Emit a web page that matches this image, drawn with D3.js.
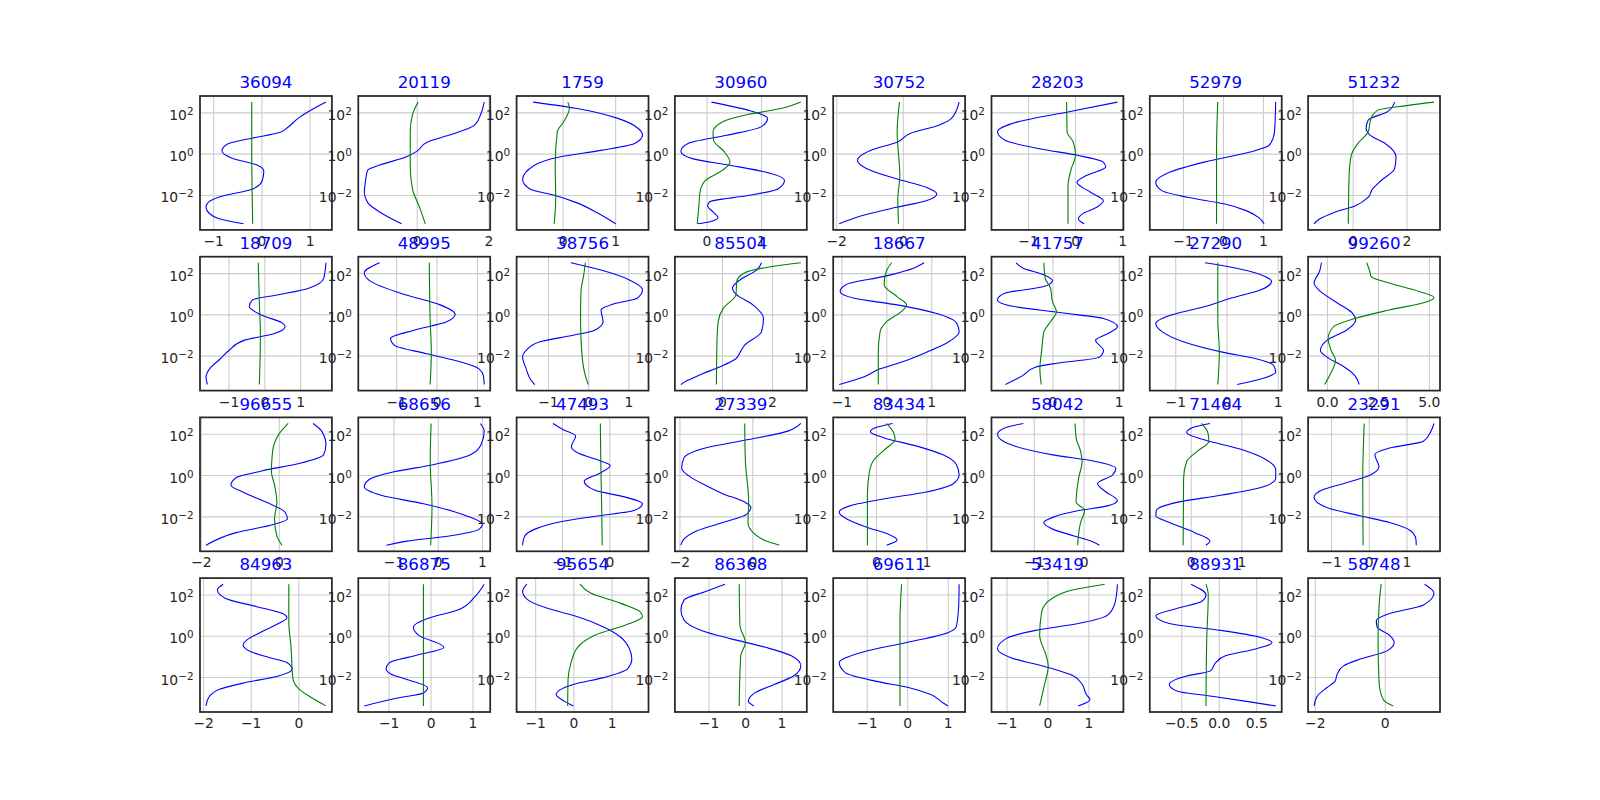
<!DOCTYPE html>
<html><head><meta charset="utf-8">
<script src="https://cdn.jsdelivr.net/npm/d3@7"></script>
<style>body{margin:0;background:#fff}</style>
</head><body>
<svg id="chart" width="1600" height="800"></svg>
<script>
// ---------- data ----------
const titles = ["36094","20119","1759","30960","30752","28203","52979","51232",
  "18709","48995","38756","85504","18667","41757","27290","99260",
  "96655","68656","47493","27339","83434","58042","71464","23291",
  "84963","86875","95654","86368","69611","53419","88931","58748"];

const xTicks = [[-1,0,1],[0,2],[0,1],[0,1],[-2,0],[-1,0,1],[-1,0,1],[0,2],
  [-1,0,1],[-1,0,1],[-1,0,1],[0,2],[-1,0,1],[0,1],[-1,0,1],[0,2.5,5],
  [-2,0],[-1,0,1],[-1,0],[-2,0],[0,1],[-1,0],[0,1],[-1,0,1],
  [-2,-1,0],[-1,0,1],[-1,0,1],[-1,0,1],[-1,0,1],[-1,0,1],[-0.5,0,0.5],[-2,0]];

const yTickValues = [1e-2, 1, 1e2];
const yTickExponents = ["−2", "0", "2"];

// each point: [log10(y), x]
const blue = [
 [[2.5,1.34],[1.71,0.76],[1.28,0.55],[1.01,0.36],[0.76,-0.18],[0.46,-0.71],[0.14,-0.82],[-0.21,-0.62],[-0.57,-0.07],[-0.84,0.05],[-1.30,0.02],[-1.71,-0.18],[-2.11,-0.89],[-2.35,-1.10],[-2.6,-1.15],[-2.9,-1.08],[-3.14,-0.89],[-3.4,-0.37]],
 [[2.5,1.88],[1.95,1.79],[1.38,1.61],[0.89,0.89],[0.57,0.30],[0.11,0],[-0.16,-0.30],[-0.54,-1.01],[-0.81,-1.37],[-1.38,-1.43],[-1.87,-1.46],[-2.36,-1.37],[-2.85,-1.01],[-3.4,-0.42]],
 [[2.5,-0.56],[2.2,0.25],[1.71,1.05],[1.22,1.44],[0.89,1.52],[0.49,1.37],[0.16,0.73],[-0.16,-0.06],[-0.57,-0.54],[-1.25,-0.76],[-1.71,-0.62],[-2.03,-0.14],[-2.36,0.25],[-2.85,0.65],[-3.4,1.01]],
 [[2.5,0.09],[2.11,0.76],[1.71,1.12],[1.30,1.0],[0.89,0.37],[0.49,-0.34],[0.11,-0.47],[-0.24,-0.26],[-0.57,0.45],[-0.89,1.08],[-1.30,1.43],[-1.71,1.31],[-2.03,0.76],[-2.33,0.06],[-2.52,0.02],[-2.85,0.13],[-3.09,0.21],[-3.30,0.06],[-3.4,-0.16]],
 [[2.5,1.69],[1.71,1.46],[1.38,1.08],[0.98,0.22],[0.54,-0.19],[0.24,-0.83],[-0.33,-1.36],[-0.73,-1.08],[-1.22,-0.19],[-1.63,0.70],[-1.95,1.02],[-2.28,0.70],[-2.60,-0.19],[-3.0,-1.21],[-3.4,-1.91]],
 [[2.5,0.90],[2.03,-0.13],[1.54,-1.22],[1.06,-1.65],[0.65,-1.49],[0.24,-0.76],[-0.08,0.05],[-0.41,0.60],[-0.65,0.65],[-1.06,0.24],[-1.38,0.04],[-1.87,0.33],[-2.28,0.60],[-2.60,0.46],[-2.93,0.15],[-3.17,0.07],[-3.4,0.19]],
 [[2.5,1.32],[1.06,1.29],[0.41,1.16],[0.08,0.68],[-0.41,-0.47],[-0.89,-1.32],[-1.38,-1.68],[-1.79,-1.53],[-2.11,-0.89],[-2.44,0.05],[-2.76,0.58],[-3.09,0.89],[-3.4,1.03]],
 [[2.5,1.56],[2.03,1.29],[1.63,0.58],[1.22,0.50],[0.89,0.66],[0.49,1.21],[-0.16,1.61],[-0.73,1.56],[-1.30,1.06],[-1.71,0.74],[-2.11,0.58],[-2.52,0.11],[-2.85,-0.68],[-3.17,-1.23],[-3.4,-1.43]],
 [[2.5,1.72],[1.76,1.66],[1.27,1.24],[0.95,0.40],[0.70,-0.33],[0.38,-0.42],[-0.03,-0.08],[-0.44,0.52],[-0.60,0.58],[-0.93,0.28],[-1.26,-0.57],[-1.75,-0.99],[-2.15,-1.23],[-2.64,-1.53],[-3.05,-1.63],[-3.4,-1.59]],
 [[2.5,-1.41],[2.01,-1.79],[1.60,-1.63],[0.95,-0.77],[0.46,0.09],[0,0.46],[-0.36,0.25],[-0.77,-0.56],[-1.17,-1.14],[-1.50,-1.04],[-1.91,-0.24],[-2.32,0.62],[-2.64,1.05],[-2.97,1.16],[-3.4,1.18]],
 [[2.5,-0.43],[2.17,0.27],[1.68,1.01],[1.19,1.35],[0.78,1.22],[0.54,0.69],[0.21,0.32],[-0.36,0.37],[-0.77,0.16],[-1.01,-0.37],[-1.34,-1.22],[-1.75,-1.54],[-2.07,-1.63],[-2.64,-1.54],[-3.13,-1.44],[-3.4,-1.33]],
 [[2.5,1.58],[2.17,1.41],[1.68,0.73],[1.27,0.42],[0.98,0.56],[0.46,1.24],[-0.20,1.66],[-0.85,1.58],[-1.50,0.90],[-1.83,0.73],[-2.15,0.56],[-2.56,-0.12],[-2.89,-0.80],[-3.21,-1.39],[-3.4,-1.64]],
 [[2.5,0.84],[2.25,0.62],[1.84,-0.05],[1.44,-0.90],[1.11,-1.03],[0.78,-0.71],[0.46,0.24],[0.05,1.10],[-0.44,1.57],[-0.85,1.62],[-1.34,1.38],[-1.83,0.90],[-2.32,0.33],[-2.64,-0.14],[-3.05,-0.52],[-3.4,-1.05]],
 [[2.5,-0.55],[2.25,-0.45],[1.92,-0.13],[1.63,0],[1.35,-0.13],[1.03,-0.71],[0.70,-0.83],[0.38,-0.58],[0.08,0.13],[-0.20,0.77],[-0.60,0.98],[-0.93,0.84],[-1.26,0.65],[-1.75,0.77],[-2.07,0.71],[-2.40,0],[-2.56,-0.26],[-2.97,-0.45],[-3.4,-0.71]],
 [[2.5,-0.42],[2.25,0.17],[1.84,0.75],[1.60,0.88],[1.19,0.67],[0.78,0.08],[0.38,-0.42],[-0.03,-1.08],[-0.44,-1.38],[-0.85,-1.25],[-1.34,-0.83],[-1.83,-0.08],[-2.15,0.58],[-2.48,0.92],[-2.81,0.96],[-3.13,0.67],[-3.4,0.21]],
 [[2.5,-0.27],[2.09,-0.36],[1.52,-0.63],[1.11,-0.32],[0.54,0.53],[0.05,1.26],[-0.28,1.41],[-0.77,0.95],[-1.26,0],[-1.75,-0.32],[-2.07,0],[-2.48,0.74],[-2.97,1.37],[-3.4,1.58]],
 [[2.5,0.88],[2.13,1.10],[1.48,1.21],[0.98,1.15],[0.57,0.55],[0.20,-0.44],[-0.13,-1.10],[-0.49,-1.23],[-0.82,-0.93],[-1.31,-0.33],[-1.80,0.16],[-2.13,0.22],[-2.38,-0.11],[-2.79,-1.10],[-3.4,-1.87]],
 [[2.5,0.96],[2.13,1.05],[1.48,0.98],[0.98,0.74],[0.49,-0.13],[0.16,-0.99],[-0.25,-1.57],[-0.57,-1.66],[-0.98,-1.28],[-1.39,-0.32],[-1.97,0.64],[-2.38,1.01],[-2.62,0.94],[-2.95,0.26],[-3.20,-0.70],[-3.4,-1.16]],
 [[2.5,-1.19],[2.21,-0.98],[1.89,-0.71],[1.39,-0.80],[1.07,-0.66],[0.74,-0.25],[0.46,0.02],[0.08,-0.21],[-0.30,-0.53],[-0.74,-0.30],[-1.07,0.34],[-1.39,0.70],[-1.72,0.52],[-1.97,-0.21],[-2.26,-1.03],[-2.62,-1.57],[-3.03,-1.80],[-3.4,-1.83]],
 [[2.5,1.33],[2.13,0.98],[1.72,-0.10],[1.31,-1.29],[0.82,-1.88],[0.33,-1.94],[-0.16,-1.64],[-0.49,-1.29],[-0.90,-0.81],[-1.31,-0.21],[-1.56,-0.04],[-1.89,-0.15],[-2.30,-0.81],[-2.70,-1.52],[-3.11,-1.88],[-3.4,-1.96]],
 [[2.5,0.33],[2.30,0],[2.10,-0.11],[1.80,0.17],[1.39,0.83],[0.98,1.33],[0.49,1.60],[0,1.65],[-0.41,1.54],[-0.82,1.0],[-1.15,0.17],[-1.48,-0.50],[-1.80,-0.73],[-2.13,-0.58],[-2.54,-0.17],[-2.87,0.25],[-3.15,0.42],[-3.4,0.21]],
 [[2.5,-1.21],[2.30,-1.56],[1.97,-1.73],[1.48,-1.47],[0.98,-0.62],[0.66,0.24],[0.33,0.65],[0,0.58],[-0.41,0.28],[-0.82,0.45],[-1.23,0.68],[-1.48,0.50],[-1.72,-0.10],[-2.05,-0.62],[-2.30,-0.80],[-2.62,-0.62],[-2.95,-0.19],[-3.20,0.15],[-3.4,0.32]],
 [[2.5,0.38],[2.30,0.04],[2.05,-0.08],[1.72,0.25],[1.23,1.02],[0.82,1.44],[0.25,1.68],[-0.16,1.68],[-0.57,1.44],[-0.98,0.59],[-1.31,-0.25],[-1.72,-0.68],[-1.97,-0.69],[-2.30,-0.42],[-2.79,0.08],[-3.20,0.38],[-3.4,0.30]],
 [[2.5,1.73],[2.13,1.65],[1.64,1.45],[1.31,0.55],[0.98,0.16],[0.41,0.27],[0,0.04],[-0.36,-0.57],[-0.74,-1.25],[-1.07,-1.45],[-1.56,-1.13],[-1.97,-0.24],[-2.30,0.55],[-2.70,1.11],[-3.11,1.25],[-3.4,1.26]],
 [[2.5,-1.58],[2.23,-1.70],[1.82,-1.54],[1.41,-0.87],[1.08,-0.33],[0.87,-0.24],[0.59,-0.42],[0.18,-0.78],[-0.20,-1.08],[-0.45,-1.16],[-0.75,-1.02],[-1.05,-0.62],[-1.30,-0.24],[-1.62,-0.13],[-1.95,-0.42],[-2.28,-1.13],[-2.61,-1.67],[-3.02,-1.89],[-3.4,-1.94]],
 [[2.5,1.28],[1.90,1.06],[1.25,0.65],[0.84,-0.07],[0.43,-0.41],[0.02,-0.28],[-0.56,0.32],[-0.97,-0.38],[-1.30,-0.98],[-1.60,-1.06],[-1.85,-0.95],[-2.11,-0.58],[-2.52,-0.07],[-2.77,-0.17],[-3.02,-0.79],[-3.4,-1.58]],
 [[2.5,-1.22],[2.15,-1.33],[1.74,-1.19],[1.33,-0.68],[0.92,0.11],[0.43,0.79],[-0.07,1.24],[-0.64,1.47],[-1.13,1.53],[-1.62,1.41],[-2.03,0.79],[-2.36,0],[-2.61,-0.34],[-2.85,-0.45],[-3.18,-0.23],[-3.4,0]],
 [[2.5,-0.55],[2.15,-1.08],[1.74,-1.67],[1.25,-1.76],[0.75,-1.67],[0.26,-1.20],[-0.15,-0.38],[-0.56,0.56],[-0.97,1.27],[-1.46,1.53],[-1.95,1.33],[-2.36,0.80],[-2.77,0.27],[-3.18,0.09],[-3.4,0.24]],
 [[2.5,1.28],[1.49,1.27],[0.43,1.21],[0.15,1.0],[-0.34,-0.05],[-0.80,-1.11],[-1.30,-1.68],[-1.79,-1.53],[-2.20,-0.79],[-2.52,0.05],[-2.85,0.58],[-3.26,0.89],[-3.4,1.0]],
 [[2.5,1.71],[1.66,1.66],[1.0,1.47],[0.59,0.75],[0.26,-0.29],[-0.15,-1.02],[-0.64,-1.22],[-1.05,-0.91],[-1.54,0.02],[-1.95,0.64],[-2.36,0.85],[-2.85,0.95],[-3.10,1.04],[-3.4,0.75]],
 [[2.5,-0.37],[1.98,-0.17],[1.66,-0.23],[1.33,-0.55],[0.97,-0.84],[0.59,-0.66],[0.26,0.03],[-0.07,0.55],[-0.34,0.71],[-0.64,0.49],[-0.97,0.09],[-1.30,-0.04],[-1.70,-0.11],[-1.95,-0.43],[-2.36,-0.66],[-2.69,-0.55],[-2.93,-0.09],[-3.18,0.37],[-3.4,0.76]],
 [[2.5,1.14],[2.07,1.41],[1.49,1.11],[1.08,0.14],[0.75,-0.24],[0.43,-0.22],[0.02,0.14],[-0.31,0.27],[-0.72,0.08],[-1.13,-0.70],[-1.46,-1.18],[-1.87,-1.36],[-2.20,-1.42],[-2.52,-1.66],[-2.93,-1.93],[-3.4,-2.02]]
];

const green = [
 [[2.5,-0.2],[0,-0.2],[-3.4,-0.18]],
 [[2.5,0.04],[1.87,-0.12],[1.06,-0.18],[-0.57,-0.18],[-1.71,-0.12],[-2.52,0.06],[-3.4,0.24]],
 [[2.5,0.10],[2.2,0.13],[1.54,0.02],[1.06,-0.10],[-0.57,-0.14],[-2.2,-0.13],[-3.4,-0.16]],
 [[2.5,1.73],[2.2,1.39],[1.9,0.76],[1.54,0.29],[1.06,0.12],[0.65,0.13],[0.08,0.33],[-0.41,0.43],[-0.81,0.29],[-1.30,-0.02],[-1.87,-0.12],[-2.52,-0.14],[-3.4,-0.17]],
 [[2.5,-0.10],[1.06,-0.17],[-1.06,-0.09],[-2.2,-0.15],[-3.4,-0.13]],
 [[2.5,-0.18],[1.06,-0.17],[0.57,-0.04],[-0.08,0.01],[-0.73,-0.08],[-1.54,-0.15],[-3.4,-0.15]],
 [[2.5,-0.13],[0.24,-0.16],[-3.4,-0.16]],
 [[2.5,3.02],[2.33,2.0],[2.11,0.94],[1.71,0.68],[1.06,0.58],[0.49,0.19],[-0.08,-0.05],[-1.06,-0.13],[-3.4,-0.16]],
 [[2.5,-0.17],[0.62,-0.14],[-1.01,-0.11],[-3.4,-0.14]],
 [[2.5,-0.18],[-0.2,-0.16],[-1.83,-0.13],[-3.4,-0.16]],
 [[2.5,-0.07],[1.92,-0.11],[1.11,-0.18],[-0.2,-0.19],[-1.83,-0.16],[-2.97,-0.07],[-3.4,0]],
 [[2.5,3.15],[2.33,2.08],[2.01,0.90],[1.60,0.59],[0.95,0.56],[0.29,0.05],[-0.36,-0.15],[-1.34,-0.20],[-3.4,-0.22]],
 [[2.5,0.12],[2.09,0],[1.44,-0.05],[0.86,0.24],[0.46,0.45],[0.13,0.33],[-0.36,0],[-0.85,-0.14],[-1.83,-0.18],[-3.4,-0.18]],
 [[2.5,-0.13],[1.76,-0.11],[1.27,-0.03],[0.62,0],[0.13,0.06],[-0.36,-0.03],[-0.85,-0.13],[-1.66,-0.16],[-2.64,-0.19],[-3.4,-0.17]],
 [[2.5,-0.17],[-0.2,-0.17],[-1.83,-0.14],[-3.4,-0.17]],
 [[2.5,1.95],[2.09,2.10],[1.84,2.16],[1.52,3.05],[1.11,4.52],[0.82,5.25],[0.62,4.94],[0.21,3.05],[-0.20,1.37],[-0.60,0.32],[-1.17,0.06],[-1.75,0.21],[-2.23,0.42],[-2.81,0.21],[-3.4,-0.11]],
 [[2.5,0.24],[1.97,0],[1.15,-0.16],[0.16,-0.19],[-0.49,-0.11],[-1.31,-0.05],[-2.13,-0.11],[-2.95,-0.05],[-3.4,0.08]],
 [[2.5,-0.15],[0.66,-0.17],[-1.48,-0.13],[-3.4,-0.16]],
 [[2.5,-0.19],[0.66,-0.18],[-1.80,-0.16],[-3.4,-0.15]],
 [[2.5,-0.21],[0.66,-0.19],[-1.31,-0.10],[-2.30,-0.12],[-2.79,0.02],[-3.20,0.38],[-3.4,0.74]],
 [[2.5,0.21],[2.05,0.35],[1.72,0.38],[1.23,0.17],[0.74,-0.04],[0.16,-0.13],[-0.98,-0.17],[-3.4,-0.17]],
 [[2.5,-0.17],[1.80,-0.15],[1.15,-0.06],[0.66,-0.03],[-0.16,-0.10],[-1.31,-0.15],[-1.72,0.02],[-2.30,-0.06],[-3.4,-0.12]],
 [[2.5,0.21],[2.05,0.34],[1.64,0.36],[1.15,0.13],[0.66,-0.08],[-0.16,-0.14],[-3.4,-0.15]],
 [[2.5,-0.12],[-0.16,-0.16],[-3.4,-0.15]],
 [[2.5,-0.20],[0.67,-0.20],[-0.64,-0.15],[-1.62,-0.13],[-2.11,-0.11],[-2.61,0.03],[-3.02,0.29],[-3.4,0.58]],
 [[2.5,-0.17],[0,-0.17],[-3.4,-0.17]],
 [[2.5,0.17],[2.07,0.45],[1.57,1.24],[1.16,1.75],[0.92,1.81],[0.59,1.47],[0.02,0.56],[-0.56,0.11],[-1.30,-0.06],[-2.11,-0.14],[-3.4,-0.15]],
 [[2.5,-0.16],[0.51,-0.14],[-0.34,0.01],[-0.97,-0.12],[-3.4,-0.16]],
 [[2.5,-0.14],[0.67,-0.18],[-3.4,-0.18]],
 [[2.5,1.40],[2.23,0.64],[1.82,0.12],[1.16,-0.14],[0.02,-0.19],[-0.97,-0.03],[-1.46,0.02],[-2.44,-0.08],[-3.4,-0.19]],
 [[2.5,-0.17],[1.98,-0.14],[-0.15,-0.16],[-3.4,-0.17]],
 [[2.5,-0.10],[1.49,-0.16],[-0.15,-0.19],[-2.28,-0.16],[-3.10,-0.04],[-3.4,0.24]]
];

// ---------- layout ----------
const svg = d3.select('#chart');
svg.append('rect').attr('width',1600).attr('height',800).attr('fill','#fff');
const W = 1240/9.4, H = 616/4.6;
const FONT = "'DejaVu Sans', sans-serif";
const TEXT = '#262626';
const minus = s => s.replace(/-/g, '\u2212');

for (let i = 0; i < 32; i++) {
  const r = Math.floor(i/8), c = i % 8;
  const x0 = 200 + c*W*1.2, y0 = 96 + r*H*1.2;
  const all = blue[i].concat(green[i]);
  const ex = d3.extent(all, d => d[1]);
  const px = (ex[1]-ex[0])*0.05;
  const xs = d3.scaleLinear().domain([ex[0]-px, ex[1]+px]).range([x0, x0+W]);
  const ey = d3.extent(all, d => d[0]);
  const py = (ey[1]-ey[0])*0.05;
  const ys = d3.scaleLog().domain([Math.pow(10, ey[0]-py), Math.pow(10, ey[1]+py)]).range([y0+H, y0]);

  const g = svg.append('g');
  const clipId = 'clip'+i;
  g.append('clipPath').attr('id', clipId).append('rect')
    .attr('x', x0).attr('y', y0).attr('width', W).attr('height', H);

  const ticks = xTicks[i];
  const dec = ticks.every(t => Number.isInteger(t)) ? 0 : 1;
  const fmt = d => minus(d.toFixed(dec));

  // grid
  const gx = g.append('g').attr('transform', `translate(0,${y0+H})`)
    .call(d3.axisBottom(xs).tickValues(ticks).tickSize(-H).tickFormat(''));
  gx.select('.domain').remove();
  gx.selectAll('line').attr('stroke', '#cccccc').attr('stroke-width', 1.1);
  const gy = g.append('g').attr('transform', `translate(${x0},0)`)
    .call(d3.axisLeft(ys).tickValues(yTickValues).tickSize(-W).tickFormat(''));
  gy.select('.domain').remove();
  gy.selectAll('line').attr('stroke', '#cccccc').attr('stroke-width', 1.1);

  // curves
  const line = d3.line()
    .x(d => xs(d[1]))
    .y(d => ys(Math.pow(10, d[0])))
    .curve(d3.curveMonotoneY);
  const cg = g.append('g').attr('clip-path', `url(#${clipId})`);
  cg.append('path').attr('d', line(blue[i])).attr('fill','none')
    .attr('stroke','#0000ff').attr('stroke-width',1.1);
  cg.append('path').attr('d', line(green[i])).attr('fill','none')
    .attr('stroke','#008000').attr('stroke-width',1.1);

  // spines
  g.append('rect').attr('x', x0).attr('y', y0).attr('width', W).attr('height', H)
    .attr('fill','none').attr('stroke', TEXT).attr('stroke-width', 1.74);

  // x tick labels
  const ax = g.append('g').attr('transform', `translate(0,${y0+H})`)
    .call(d3.axisBottom(xs).tickValues(ticks).tickSize(0).tickPadding(6.1).tickFormat(fmt));
  ax.select('.domain').remove();
  ax.attr('font-family', FONT).attr('font-size', 13.89);
  ax.selectAll('text').attr('fill', TEXT);

  // y tick labels (10^n)
  const ay = g.append('g').attr('transform', `translate(${x0},0)`)
    .call(d3.axisLeft(ys).tickValues(yTickValues).tickSize(0).tickPadding(6.5).tickFormat(() => ''));
  ay.select('.domain').remove();
  ay.attr('font-family', FONT).attr('font-size', 13.89);
  ay.selectAll('text').attr('fill', TEXT).attr('dy', 7).each(function(d, j) {
    const t = d3.select(this);
    t.text(null);
    t.append('tspan').text('10');
    t.append('tspan').attr('font-size', 10.4).attr('dy', -5).text(yTickExponents[j]);
  });

  // title
  g.append('text').attr('x', x0 + W/2).attr('y', y0 - 7.8)
    .attr('text-anchor','middle').attr('font-family', FONT).attr('font-size', 16.67)
    .attr('fill', '#0000ff').text(titles[i]);
}
</script>
</body></html>
